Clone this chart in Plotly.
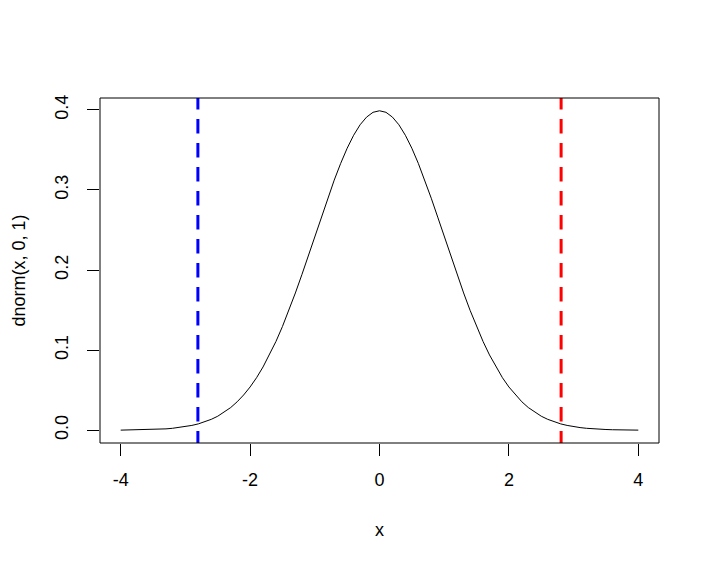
import plotly.graph_objects as go

# Curve values (standard normal density)
x_vals = [-4.0, -3.9, -3.8, -3.7, -3.6, -3.5, -3.4, -3.3, -3.2, -3.1, -3.0,
          -2.9, -2.8, -2.7, -2.6, -2.5, -2.4, -2.3, -2.2, -2.1, -2.0,
          -1.9, -1.8, -1.7, -1.6, -1.5, -1.4, -1.3, -1.2, -1.1, -1.0,
          -0.9, -0.8, -0.7, -0.6, -0.5, -0.4, -0.3, -0.2, -0.1, 0.0,
          0.1, 0.2, 0.3, 0.4, 0.5, 0.6, 0.7, 0.8, 0.9, 1.0,
          1.1, 1.2, 1.3, 1.4, 1.5, 1.6, 1.7, 1.8, 1.9, 2.0,
          2.1, 2.2, 2.3, 2.4, 2.5, 2.6, 2.7, 2.8, 2.9, 3.0,
          3.1, 3.2, 3.3, 3.4, 3.5, 3.6, 3.7, 3.8, 3.9, 4.0]
y_vals = [0.0001, 0.0002, 0.0003, 0.0004, 0.0006, 0.0009, 0.0012, 0.0017, 0.0024, 0.0033, 0.0044,
          0.0060, 0.0079, 0.0104, 0.0136, 0.0175, 0.0224, 0.0283, 0.0355, 0.0440, 0.0540,
          0.0656, 0.0790, 0.0940, 0.1109, 0.1295, 0.1497, 0.1714, 0.1942, 0.2179, 0.2420,
          0.2661, 0.2897, 0.3123, 0.3332, 0.3521, 0.3683, 0.3814, 0.3910, 0.3970, 0.3989,
          0.3970, 0.3910, 0.3814, 0.3683, 0.3521, 0.3332, 0.3123, 0.2897, 0.2661, 0.2420,
          0.2179, 0.1942, 0.1714, 0.1497, 0.1295, 0.1109, 0.0940, 0.0790, 0.0656, 0.0540,
          0.0440, 0.0355, 0.0283, 0.0224, 0.0175, 0.0136, 0.0104, 0.0079, 0.0060, 0.0044,
          0.0033, 0.0024, 0.0017, 0.0012, 0.0009, 0.0006, 0.0004, 0.0003, 0.0002, 0.0001]

lower_cut = -2.807
upper_cut = 2.807

x_ticks = [-4, -2, 0, 2, 4]
x_tick_labels = ["-4", "-2", "0", "2", "4"]
y_ticks = [0.0, 0.1, 0.2, 0.3, 0.4]
y_tick_labels = ["0.0", "0.1", "0.2", "0.3", "0.4"]

font_family = "Liberation Sans, Arial, sans-serif"
FS = 18

# dash pattern: partial first dash at top, then 14.5 on / 9.5 off
dash_pattern = "11.5px,9.5px," + ",".join(["14.5px,9.5px"] * 16)

fig = go.Figure()
fig.add_trace(go.Scatter(x=x_vals, y=y_vals, mode="lines",
                         line=dict(color="black", width=1), showlegend=False,
                         hoverinfo="skip"))

# vertical dashed lines (drawn top to bottom)
fig.add_shape(type="line", xref="x", yref="paper", x0=lower_cut, x1=lower_cut, y0=1, y1=0,
              line=dict(color="#0000FF", width=3, dash=dash_pattern))
fig.add_shape(type="line", xref="x", yref="paper", x0=upper_cut, x1=upper_cut, y0=1, y1=0,
              line=dict(color="#FF0000", width=3, dash=dash_pattern))
# box
fig.add_shape(type="rect", xref="paper", yref="paper", x0=0, x1=1, y0=0, y1=1,
              line=dict(color="black", width=1))

# page body has an 8px margin, so the figure is drawn at (8, 8)
OFF = 8
W, H = 710 - OFF, 567 - OFF
L, R, T, B = 100 - OFF, 51, 98 - OFF, 124
pw = W - L - R
ph = H - T - B

fig.add_annotation(text="x", xref="paper", yref="paper", x=0.5, y=(443 - 529.5) / ph,
                   showarrow=False, xanchor="center", yanchor="middle",
                   font=dict(size=FS, color="black", family=font_family))
fig.add_annotation(text="dnorm(x, 0, 1)", xref="paper", yref="paper",
                   x=(18 - 100) / pw, y=0.5, textangle=-90,
                   showarrow=False, xanchor="center", yanchor="middle",
                   font=dict(size=FS, color="black", family=font_family))

fig.update_layout(
    width=W, height=H,
    margin=dict(l=L, r=R, t=T, b=B),
    paper_bgcolor="white", plot_bgcolor="white",
    font=dict(family=font_family, size=FS, color="black"),
    xaxis=dict(range=[-4.32, 4.32], tickvals=x_ticks, ticktext=x_tick_labels,
               ticks="outside", ticklen=12, tickwidth=1, tickcolor="black",
               showgrid=False, zeroline=False, showline=False,
               ticklabelstandoff=8),
    yaxis=dict(range=[-0.01596, 0.41486], tickvals=y_ticks, ticktext=y_tick_labels,
               ticks="outside", ticklen=12, tickwidth=1, tickcolor="black",
               showgrid=False, zeroline=False, showline=False, tickangle=-90,
               ticklabelstandoff=12),
)

fig.write_html("out.html")
